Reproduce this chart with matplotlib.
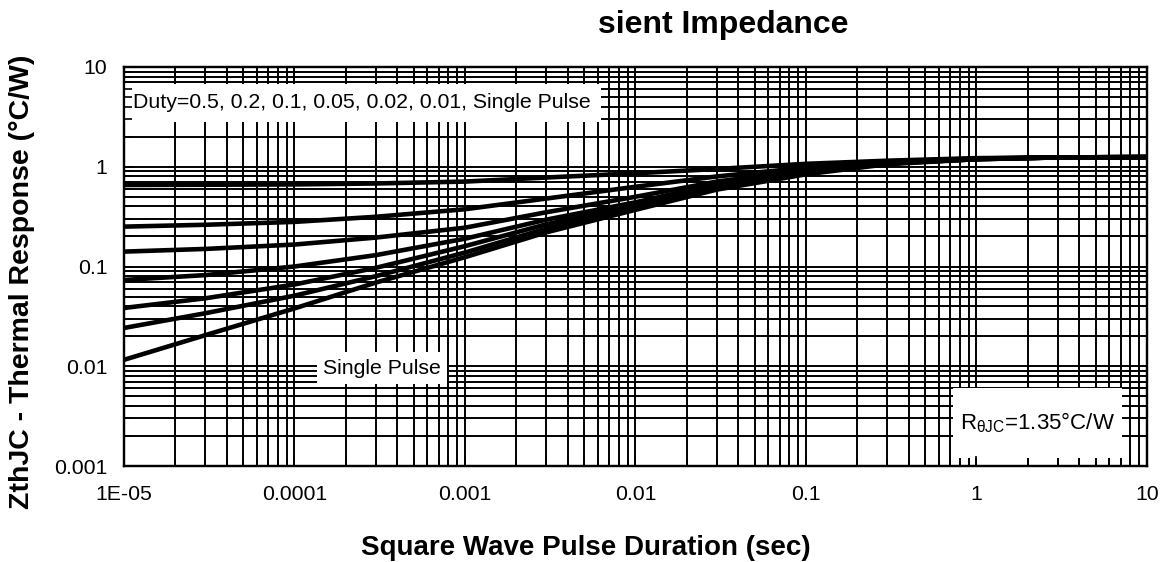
import matplotlib
matplotlib.use("Agg")
import matplotlib.pyplot as plt
from matplotlib.patches import Rectangle
from matplotlib.ticker import LogLocator, NullFormatter

plt.rcParams['font.family'] = ['Liberation Sans', 'DejaVu Sans']
plt.rcParams['mathtext.fontset'] = 'custom'
plt.rcParams['mathtext.rm'] = 'Liberation Sans'

# pulse duration (sec) and Zth (°C/W)
t = [1e-5, 3e-5, 1e-4, 3e-4, 1e-3, 3e-3, 1e-2, 3e-2, 1e-1, 3e-1, 1, 3, 10]
z_d05 = [0.656, 0.66, 0.665, 0.68, 0.71, 0.78, 0.86, 0.95, 1.07, 1.15, 1.22, 1.24, 1.25]
z_d02 = [0.251, 0.262, 0.28, 0.315, 0.375, 0.48, 0.63, 0.80, 0.98, 1.12, 1.21, 1.24, 1.25]
z_d01 = [0.141, 0.15, 0.166, 0.195, 0.245, 0.35, 0.50, 0.71, 0.93, 1.10, 1.20, 1.24, 1.25]
z_d005 = [0.0733, 0.082, 0.10, 0.13, 0.19, 0.295, 0.44, 0.67, 0.90, 1.09, 1.20, 1.24, 1.25]
z_d002 = [0.0384, 0.048, 0.066, 0.097, 0.16, 0.265, 0.41, 0.64, 0.88, 1.08, 1.19, 1.24, 1.25]
z_d001 = [0.0242, 0.034, 0.051, 0.08, 0.138, 0.24, 0.39, 0.62, 0.87, 1.08, 1.19, 1.24, 1.25]
z_single = [0.0116, 0.0205, 0.038, 0.069, 0.124, 0.22, 0.37, 0.59, 0.84, 1.06, 1.19, 1.24, 1.25]
curves = [z_d05, z_d02, z_d01, z_d005, z_d002, z_d001, z_single]

xticks = [1e-5, 1e-4, 1e-3, 1e-2, 1e-1, 1, 10]
xticklabels = ['1E-05', '0.0001', '0.001', '0.01', '0.1', '1', '10']
yticks = [0.001, 0.01, 0.1, 1, 10]
yticklabels = ['0.001', '0.01', '0.1', '1', '10']

W, H = 1164, 562
fig = plt.figure(figsize=(W / 100, H / 100), dpi=100)
ax = fig.add_axes([124 / W, 1 - 466 / H, (1147 - 124) / W, (466 - 67) / H])

for z in curves:
    ax.plot(t, z, color='black', lw=3.3, solid_capstyle='butt', zorder=2)

ax.set_xscale('log')
ax.set_yscale('log')
ax.set_xlim(1e-5, 10)
ax.set_ylim(0.001, 10)
ax.set_xticks(xticks, xticklabels)
ax.set_yticks(yticks, yticklabels)
for a in (ax.xaxis, ax.yaxis):
    a.set_minor_locator(LogLocator(base=10, subs=range(2, 10), numticks=20))
    a.set_minor_formatter(NullFormatter())
ax.grid(True, which='both', color='black', lw=1.4)
ax.tick_params(which='both', direction='in', length=0, labelsize=15.3)
ax.tick_params(axis='x', pad=14)
ax.tick_params(axis='y', pad=12)
for s in ax.spines.values():
    s.set_linewidth(1.6)

ax.text(1.13e-5, 4.36, 'Duty=0.5, 0.2, 0.1, 0.05, 0.02, 0.01, Single Pulse',
        fontsize=15.3, ha='left', va='center', zorder=3,
        bbox=dict(facecolor='white', edgecolor='none', pad=7))
ax.text(3.26e-4, 0.0096, 'Single Pulse', fontsize=15.3, ha='center', va='center',
        bbox=dict(facecolor='white', edgecolor='none', pad=4.5), zorder=3)
ax.add_patch(Rectangle((0.810, 0.02), 0.1656, 0.175, transform=ax.transAxes,
                       facecolor='white', edgecolor='none', zorder=3))
ax.text(0.893, 0.1075, r'R$_{\mathregular{θJC}}$=1.35°C/W', fontsize=16,
        ha='center', va='center', transform=ax.transAxes, zorder=4)

# overlay for inward ticks that show above the white label boxes
ax2 = fig.add_axes(ax.get_position(), sharex=ax, sharey=ax)
ax2.patch.set_visible(False)
ax2.tick_params(which='both', direction='in', labelbottom=False, labelleft=False,
                width=1.2, color='black')
ax2.tick_params(which='major', length=7)
ax2.tick_params(which='minor', length=6)
for s in ax2.spines.values():
    s.set_linewidth(1.6)

fig.text(848 / W, 1 - 25 / H, 'sient Impedance', fontsize=23, fontweight='bold',
         ha='right', va='center')
fig.text(22 / W, 1 - 282 / H, 'ZthJC - Thermal Response (°C/W)', fontsize=20.5,
         fontweight='bold', rotation=90, ha='center', va='center')
fig.text(586 / W, 1 - 548 / H, 'Square Wave Pulse Duration (sec)', fontsize=20,
         fontweight='bold', ha='center', va='center')

fig.savefig('out.png', dpi=100)
